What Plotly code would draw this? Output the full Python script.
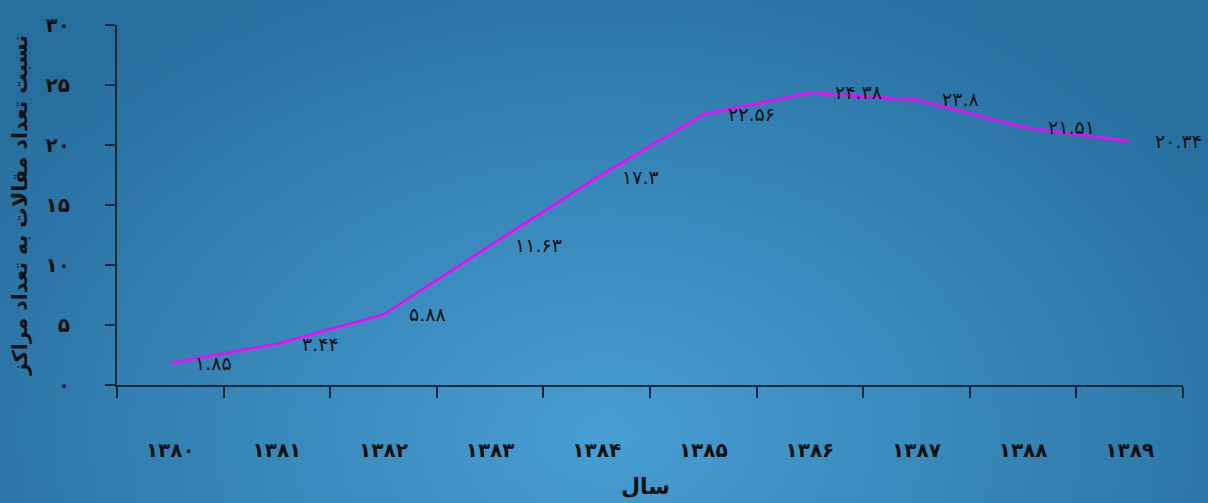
import base64, struct, zlib
import plotly.graph_objects as go

years = ["۱۳۸۰", "۱۳۸۱", "۱۳۸۲", "۱۳۸۳", "۱۳۸۴", "۱۳۸۵", "۱۳۸۶", "۱۳۸۷", "۱۳۸۸", "۱۳۸۹"]
ratios = [1.85, 3.44, 5.88, 11.63, 17.3, 22.56, 24.38, 23.8, 21.51, 20.34]
ratio_labels = ["۱.۸۵", "۳.۴۴", "۵.۸۸", "۱۱.۶۳", "۱۷.۳", "۲۲.۵۶", "۲۴.۳۸", "۲۳.۸", "۲۱.۵۱", "۲۰.۳۴"]
y_ticks = [0, 5, 10, 15, 20, 25, 30]
y_tick_labels = ["۰", "۵", "۱۰", "۱۵", "۲۰", "۲۵", "۳۰"]
y_title = "<b>نسبت تعداد مقالات به تعداد مراکز</b>"
x_title = "<b>سال</b>"

W, H = 1208, 503


def gradient_png(w, h):
    light = (72, 158, 210)
    dark = (38, 110, 158)
    cx, cy, rx, ry = 0.5 * w, 0.86 * h, 0.62 * w, 1.05 * h
    raw = bytearray()
    for j in range(h):
        raw.append(0)
        for i in range(w):
            t = (((i - cx) / rx) ** 2 + ((j - cy) / ry) ** 2) ** 0.5
            t = min(1.0, t)
            for k in range(3):
                raw.append(int(round(light[k] + (dark[k] - light[k]) * t)))

    def chunk(tag, data):
        c = struct.pack(">I", len(data)) + tag + data
        return c + struct.pack(">I", zlib.crc32(tag + data) & 0xFFFFFFFF)

    png = b"\x89PNG\r\n\x1a\n"
    png += chunk(b"IHDR", struct.pack(">IIBBBBB", w, h, 8, 2, 0, 0, 0))
    png += chunk(b"IDAT", zlib.compress(bytes(raw), 9))
    png += chunk(b"IEND", b"")
    return "data:image/png;base64," + base64.b64encode(png).decode()


bg = gradient_png(302, 126)

fig = go.Figure()
fig.add_trace(go.Scatter(
    x=years, y=ratios, mode="lines",
    line=dict(color="#ff00ff", width=2.5),
    hoverinfo="skip", showlegend=False,
))

annotations = []
for yr, v, lab in zip(years, ratios, ratio_labels):
    annotations.append(dict(
        x=yr, y=v, xref="x", yref="y", text=lab, showarrow=False,
        xanchor="left", yanchor="middle", xshift=23,
        font=dict(family="DejaVu Sans", size=19, color="#111111"),
    ))
annotations.append(dict(
    x=-0.091, y=0.5, xref="paper", yref="paper", text=y_title,
    showarrow=False, textangle=-90, xanchor="center", yanchor="middle",
    font=dict(family="DejaVu Sans", size=20.5, color="#111111"),
))
annotations.append(dict(
    x=0.496, y=-0.283, xref="paper", yref="paper", text=x_title,
    showarrow=False, xanchor="center", yanchor="middle",
    font=dict(family="DejaVu Sans", size=22, color="#111111"),
))

axis_color = "#1b2a38"
fig.update_layout(
    width=W, height=H,
    margin=dict(l=117, r=25, t=25, b=118),
    paper_bgcolor="#3583b5",
    plot_bgcolor="rgba(0,0,0,0)",
    images=[dict(source=bg, xref="paper", yref="paper", x=-117 / 1066, y=1 + 25 / 360,
                 sizex=W / 1066, sizey=H / 360, sizing="stretch", xanchor="left",
                 yanchor="top", layer="below")],
    annotations=annotations,
    xaxis=dict(
        type="category", range=[-0.5, 9.5], tickson="boundaries",
        ticks="outside", ticklen=11, tickwidth=1.5, tickcolor=axis_color,
        showline=True, linecolor=axis_color, linewidth=2, showgrid=False,
        ticklabelstandoff=46,
        tickfont=dict(family="DejaVu Sans", size=20, color="#111111", weight="bold"),
    ),
    yaxis=dict(
        range=[0, 30], tickvals=y_ticks, ticktext=y_tick_labels,
        ticks="outside", ticklen=10, tickwidth=1.5, tickcolor=axis_color,
        showline=True, linecolor=axis_color, linewidth=2, showgrid=False,
        zeroline=False, ticklabelstandoff=31,
        tickfont=dict(family="DejaVu Sans", size=20, color="#111111", weight="bold"),
    ),
)

fig.write_html(
    "out.html",
    config={"displayModeBar": False},
    post_script="document.body.style.margin='0';document.body.style.overflow='hidden';",
)
